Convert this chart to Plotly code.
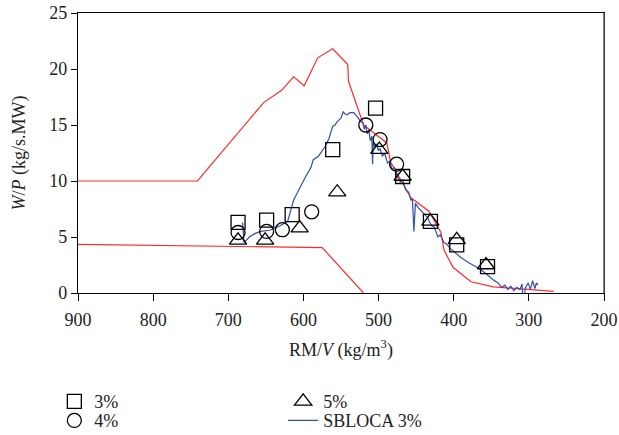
import plotly.graph_objects as go

# 3% experiment (squares)
sq_x = [687, 649, 615, 561, 504, 468, 431, 396, 355]
sq_y = [6.3, 6.5, 7.0, 12.8, 16.5, 10.4, 6.4, 4.3, 2.35]
# 4% experiment (circles)
ci_x = [687, 649, 628, 589, 517, 498, 476]
ci_y = [5.4, 5.5, 5.65, 7.25, 15.0, 13.7, 11.5]
# 5% experiment (triangles)
tr_x = [687, 651, 605, 555, 499, 468, 431, 396, 357]
tr_y = [4.7, 4.7, 5.8, 9.0, 12.8, 10.4, 6.4, 4.75, 2.5]

# SBLOCA 3% simulation
sb_x = [681, 679, 672, 665, 657, 645, 631, 621, 613, 604, 597, 590, 587, 580, 571, 566, 561, 558, 555, 550,
        547, 545, 542, 538, 533, 528, 524, 521, 519, 517, 515, 513, 511, 509, 508, 507, 505, 503, 500, 498,
        495, 492, 488, 485, 482, 479, 475, 471, 468, 464, 460, 457, 455, 453, 451, 447, 443, 440, 437, 435,
        432, 429, 426, 421, 418, 413, 410, 405, 400, 391, 380, 370, 364, 355, 348, 341, 336, 332, 328, 324,
        320, 316, 312, 309, 307, 305, 301, 298, 295, 292, 290, 288]
sb_y = [6.3, 4.5, 5.0, 5.3, 5.5, 5.6, 6.0, 6.4, 8.3, 9.5, 10.4, 11.2, 11.9, 12.2, 13.1, 13.8, 14.9, 15.0, 15.3, 15.6,
        16.2, 16.0, 15.9, 16.1, 16.1, 15.7, 15.3, 15.2, 14.6, 15.0, 14.2, 14.6, 13.6, 14.0, 11.5, 13.5, 13.0, 13.3, 12.7, 12.9,
        12.2, 12.5, 11.6, 11.8, 11.0, 11.2, 10.4, 9.9, 10.1, 9.2, 9.0, 8.3, 8.4, 5.5, 8.0, 7.6, 7.3, 7.1, 6.9, 6.8,
        6.3, 6.0, 5.9, 5.0, 5.2, 4.5, 4.4, 4.0, 3.7, 3.2, 2.7, 2.3, 2.1, 1.6, 1.2, 0.9, 0.5, 0.7, 0.3, 0.6,
        0.2, 0.5, 0.3, 0.8, -2.0, 0.4, 0.9, 0.3, 1.1, 0.4, 0.9, 0.7]

# upper and lower red boundary lines
up_x = [900, 741, 653, 640, 629, 613, 599, 581, 561, 541, 540, 520, 508, 489, 484, 457, 433, 417, 413, 401, 377, 347, 267]
up_y = [10, 10, 17.0, 17.6, 18.1, 19.3, 18.5, 21.0, 21.8, 20.4, 18.9, 15.0, 14.4, 13.4, 11.7, 8.5, 7.3, 5.4, 3.85, 2.3, 1.0, 0.55, 0.15]
lo_x = [900, 800, 700, 575, 520]
lo_y = [4.35, 4.25, 4.15, 4.05, 0]

x_ticks = [900, 800, 700, 600, 500, 400, 300, 200]
y_ticks = [0, 5, 10, 15, 20, 25]

RED = "#ff2a2a"
BLUE = "#2f50a8"
FONT = "Liberation Serif"

fig = go.Figure()
fig.add_trace(go.Scatter(x=up_x, y=up_y, mode="lines", line=dict(color=RED, width=1.2), showlegend=False))
fig.add_trace(go.Scatter(x=lo_x, y=lo_y, mode="lines", line=dict(color=RED, width=1.2), showlegend=False))
fig.add_trace(go.Scatter(x=sb_x, y=sb_y, mode="lines", line=dict(color=BLUE, width=1.2),
                         name="SBLOCA 3%", legend="legend4"))
mk = dict(color="black", size=14, line=dict(width=1.3))
fig.add_trace(go.Scatter(x=sq_x, y=sq_y, mode="markers", marker=dict(symbol="square-open", **mk),
                         name="3%", legend="legend"))
fig.add_trace(go.Scatter(x=ci_x, y=ci_y, mode="markers", marker=dict(symbol="circle-open", **mk),
                         name="4%", legend="legend2"))
fig.add_trace(go.Scatter(x=tr_x, y=tr_y, mode="markers", marker=dict(symbol="triangle-up-open", **{**mk, "size": 15}),
                         name="5%", legend="legend3"))

leg_common = dict(font=dict(family=FONT, size=18, color="#222"), bgcolor="rgba(0,0,0,0)",
                  yanchor="top", xanchor="left", tracegroupgap=0, itemsizing="trace")
R1, R2 = -0.322, -0.39
fig.update_layout(
    width=619, height=435,
    margin=dict(l=78, r=15, t=13, b=142, autoexpand=False),
    plot_bgcolor="white", paper_bgcolor="white",
    font=dict(family=FONT, size=18, color="#222"),
    legend=dict(x=-0.045, y=R1, **leg_common),
    legend2=dict(x=-0.045, y=R2, **leg_common),
    legend3=dict(x=0.39, y=R1, **leg_common),
    legend4=dict(x=0.39, y=R2, **leg_common),
    xaxis=dict(range=[900, 200], tickvals=x_ticks, ticks="outside", ticklen=7, tickcolor="black",
               ticklabelstandoff=3,
               showline=True, linecolor="black", linewidth=1.2, mirror=True, showgrid=False, zeroline=False,
               title=dict(text="RM/<i>V</i> (kg/m<sup>3</sup>)", standoff=14, font=dict(size=18)),
               tickfont=dict(size=18)),
    yaxis=dict(range=[0, 25], tickvals=y_ticks, ticks="outside", ticklen=6, tickcolor="black",
               showline=True, linecolor="black", linewidth=1.2, mirror=True, showgrid=False, zeroline=False,
               title=dict(text="<i>W</i>/<i>P</i> (kg/s.MW)", standoff=18, font=dict(size=18)),
               tickfont=dict(size=18)),
    shapes=[dict(type="line", xref="paper", yref="paper", x0=1, x1=1, y0=0, y1=1,
                 line=dict(color="#555", width=1.5))],
)
fig.write_html("out.html")
